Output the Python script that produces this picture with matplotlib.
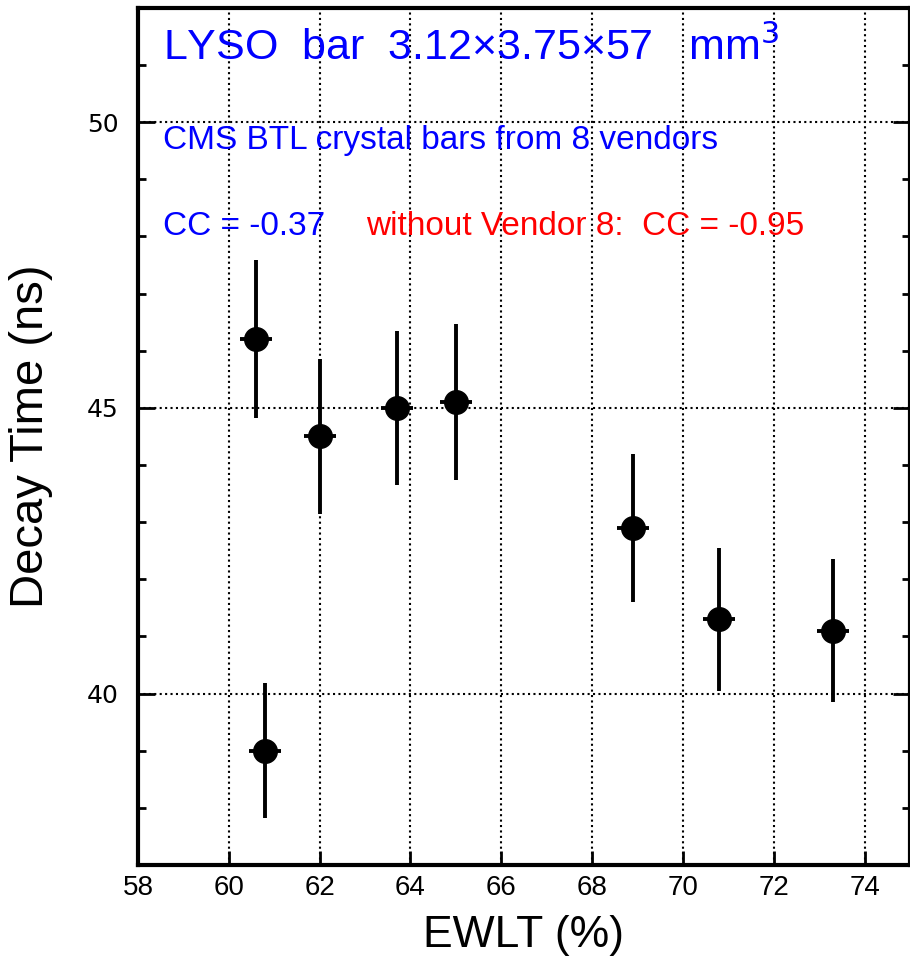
import numpy as np
import matplotlib.pyplot as plt
from matplotlib.ticker import MultipleLocator

# EWLT (%) and decay time (ns) for the 8 vendors
ewlt = [60.6, 62.0, 63.7, 65.0, 68.9, 70.8, 73.3, 60.8]
decay_time = [46.2, 44.5, 45.0, 45.1, 42.9, 41.3, 41.1, 39.0]
ewlt_err = [0.35, 0.35, 0.35, 0.35, 0.35, 0.35, 0.35, 0.35]
decay_err = [1.38, 1.35, 1.35, 1.36, 1.3, 1.25, 1.25, 1.18]

x_ticks = [58, 60, 62, 64, 66, 68, 70, 72, 74]
y_ticks = [40, 45, 50]

plt.rcParams['font.family'] = ['Liberation Sans', 'DejaVu Sans']

fig = plt.figure(figsize=(9.1, 9.6), dpi=100)
ax = fig.add_axes([0.1516, 0.099, 0.8484, 0.8927])

ax.errorbar(ewlt, decay_time, xerr=ewlt_err, yerr=decay_err, fmt="o", color="black",
            markersize=17, elinewidth=2.8, capsize=0, zorder=3)

ax.set_xlim(58, 75)
ax.set_ylim(37, 52)
ax.set_xticks(x_ticks)
ax.set_yticks(y_ticks)
ax.yaxis.set_minor_locator(MultipleLocator(1))
ax.grid(True, which="major", color="black", linestyle=(0, (1, 1.6)), linewidth=1.5)

ax.tick_params(axis="x", which="major", direction="in", length=10, width=2,
               labelsize=20, pad=7, top=False)
ax.tick_params(axis="y", which="major", direction="in", length=12, width=2,
               pad=14, right=True)
ax.tick_params(axis="y", which="minor", direction="in", length=6, width=2, right=True)
for lab in ax.get_yticklabels():
    lab.set_fontfamily("DejaVu Sans")
    lab.set_fontsize(18)

for sp in ax.spines.values():
    sp.set_linewidth(3)

ax.set_xlabel("EWLT (%)", fontsize=32, labelpad=10)
ax.set_ylabel("Decay Time (ns)", fontsize=34, labelpad=24)

ax.text(0.032, 0.953, "LYSO  bar  3.12×3.75×57   mm$^3$", transform=ax.transAxes,
        color="blue", fontsize=31, va="center", ha="left")
ax.text(0.032, 0.845, "CMS BTL crystal bars from 8 vendors", transform=ax.transAxes,
        color="blue", fontsize=24, va="center", ha="left")
ax.text(0.032, 0.745, "CC = -0.37", transform=ax.transAxes,
        color="blue", fontsize=24, va="center", ha="left")
ax.text(0.296, 0.745, "without Vendor 8:  CC = -0.95", transform=ax.transAxes,
        color="red", fontsize=24, va="center", ha="left")

fig.savefig("out.png", dpi=100)
